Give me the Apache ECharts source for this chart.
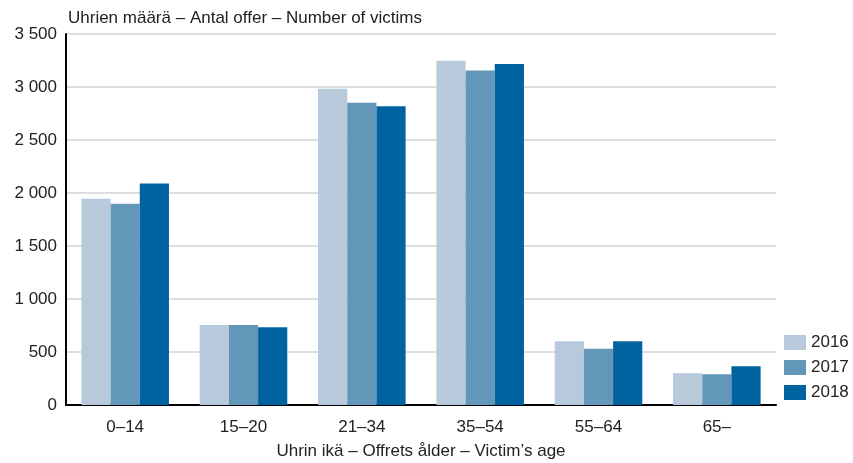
<!DOCTYPE html>
<html>
<head>
<meta charset="utf-8">
<script src="https://cdn.jsdelivr.net/npm/echarts@6/dist/echarts.min.js"></script>
<style>html,body{margin:0;padding:0;background:#fff}#c{width:853px;height:463px}</style>
</head>
<body>
<div id="c"></div>
<script>
const categories = ['0–14', '15–20', '21–34', '35–54', '55–64', '65–'];
const years = ['2016', '2017', '2018'];
const v2016 = [1945, 755, 2983, 3247, 602, 300];
const v2017 = [1898, 755, 2851, 3156, 530, 290];
const v2018 = [2090, 734, 2819, 3216, 602, 366];
const colors = ['#b7c9da', '#6297ba', '#00639f'];
const font = '"Liberation Sans", Arial, sans-serif';

const chart = echarts.init(document.getElementById('c'));
const fmt = v => String(v).replace(/\B(?=(\d{3})+(?!\d))/g, ' ');
chart.setOption({
  animation: false,
  textStyle: { fontFamily: font },
  title: {
    text: 'Uhrien määrä – Antal offer – Number of victims',
    left: 63, top: 5,
    textStyle: { fontSize: 17, fontWeight: 'normal', color: '#222', fontFamily: font }
  },
  legend: {
    orient: 'vertical', left: 779, top: 329,
    itemWidth: 22, itemHeight: 15, itemGap: 8,
    icon: 'rect',
    textStyle: { fontSize: 17, color: '#222', fontFamily: font },
    data: years
  },
  grid: { left: 66, right: 77, top: 34, bottom: 58, containLabel: false, outerBoundsMode: 'none' },
  xAxis: {
    type: 'category', data: categories,
    name: 'Uhrin ikä – Offrets ålder – Victim’s age',
    nameLocation: 'middle', nameGap: 38,
    nameTextStyle: { fontSize: 17, color: '#222', fontFamily: font },
    axisLine: { lineStyle: { color: '#000', width: 2 } },
    axisTick: { show: false },
    axisLabel: { fontSize: 17, color: '#222', margin: 14, fontFamily: font }
  },
  yAxis: {
    type: 'value', min: 0, max: 3500, interval: 500,
    axisLine: { show: true, lineStyle: { color: '#000', width: 2 } },
    axisTick: { show: false },
    splitLine: { lineStyle: { color: '#d3d3d3', width: 1.5 } },
    axisLabel: { fontSize: 17, color: '#222', margin: 9, formatter: fmt, fontFamily: font }
  },
  series: [v2016, v2017, v2018].map((d, i) => ({
    name: years[i], type: 'bar', data: d,
    barGap: '0%', barCategoryGap: '26%',
    itemStyle: { color: colors[i] }
  }))
});
</script>
</body>
</html>
